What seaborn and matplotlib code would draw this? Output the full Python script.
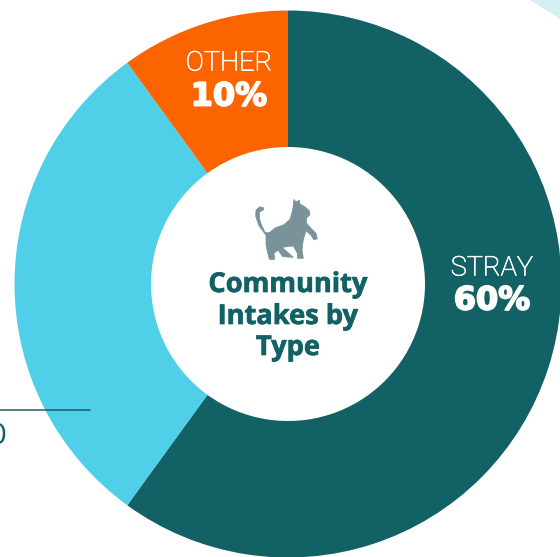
import matplotlib
matplotlib.use("Agg")
import matplotlib.pyplot as plt
import matplotlib.patheffects as pe
from matplotlib.patches import Polygon
import seaborn as sns

sns.set_theme(style="white")

categories = ["STRAY", "", "OTHER"]
values = [60, 30, 10]
value_labels = ["60%", "", "10%"]
title_lines = ["Community", "Intakes by", "Type"]
palette = sns.color_palette(["#126165", "#4fcfe8", "#fb6400"])
TEAL = "#126165"

W, H = 560, 557
fig = plt.figure(figsize=(W / 100, H / 100), dpi=100)
ax = fig.add_axes([0, 0, 1, 1])

ax.pie(values, colors=palette, startangle=90, counterclock=False,
       center=(288, H - 284), radius=273.5,
       wedgeprops=dict(width=136.5, linewidth=0))
ax.set_xlim(0, W)
ax.set_ylim(0, H)
ax.set_aspect("auto")
ax.axis("off")

def Y(p):
    return H - p

# faint decoration in the top right corner
ax.add_patch(Polygon([(530, Y(0)), (560, Y(0)), (560, Y(19))], closed=True,
                     fc="#d4f0f5", ec="none", zorder=0))

# fragment of neighbouring graphic
ax.plot([0, 90], [Y(410), Y(410)], color="#1d5a60", lw=1.2, alpha=0.9, zorder=4)
ax.text(-3, Y(436), "0", color=TEAL, fontsize=20, family="Lato", ha="center", va="center")

thin = [pe.withStroke(linewidth=0.5, foreground="white")]
thick = [pe.withStroke(linewidth=1.3, foreground="white")]
light = dict(family="Roboto", fontweight="light", color="white", ha="center", va="center", path_effects=thin)
heavy = dict(family="DejaVu Sans", fontweight="bold", color="white", ha="center", va="center", path_effects=thick)
ax.text(492, Y(268), categories[0], fontsize=19.5, **light)
ax.text(492, Y(301), value_labels[0], fontsize=23, **heavy)
ax.text(229, Y(63), categories[2], fontsize=19.5, **light)
ax.text(229, Y(97), value_labels[2], fontsize=23, **heavy)

for line, py in zip(title_lines, [285, 317, 348]):
    ax.text(288, Y(py), line, family="Open Sans", fontweight="bold", fontsize=19.6,
            color=TEAL, ha="center", va="center",
            path_effects=[pe.withStroke(linewidth=0.5, foreground=TEAL)])

# cat silhouette (zoom-crop outline, converted to figure pixels)
cat = [(196,128),(184,104),(178,84),(179,66),(190,60),(192,54),(180,50),(168,60),(167,78),(176,106),
       (198,136),(198,165),(202,184),(208,208),(224,208),(222,190),(234,180),(248,200),(280,202),
       (262,186),(246,172),(280,168),(292,190),(292,205),(310,205),(306,180),(310,150),(318,122),
       (333,136),(342,150),(352,146),(348,130),(330,112),(320,100),(320,84),(330,74),(328,62),
       (314,50),(300,42),(298,30),(288,36),(282,28),(278,60),(270,88),(252,104),(225,114),(208,128)]
pts = [(200 + x / 3, Y(190 + y / 3)) for x, y in cat]
ax.add_patch(Polygon(pts, closed=True, fc="#7a9299", ec="#7a9299", lw=0.5, zorder=5))

fig.savefig("out.png", dpi=100)
